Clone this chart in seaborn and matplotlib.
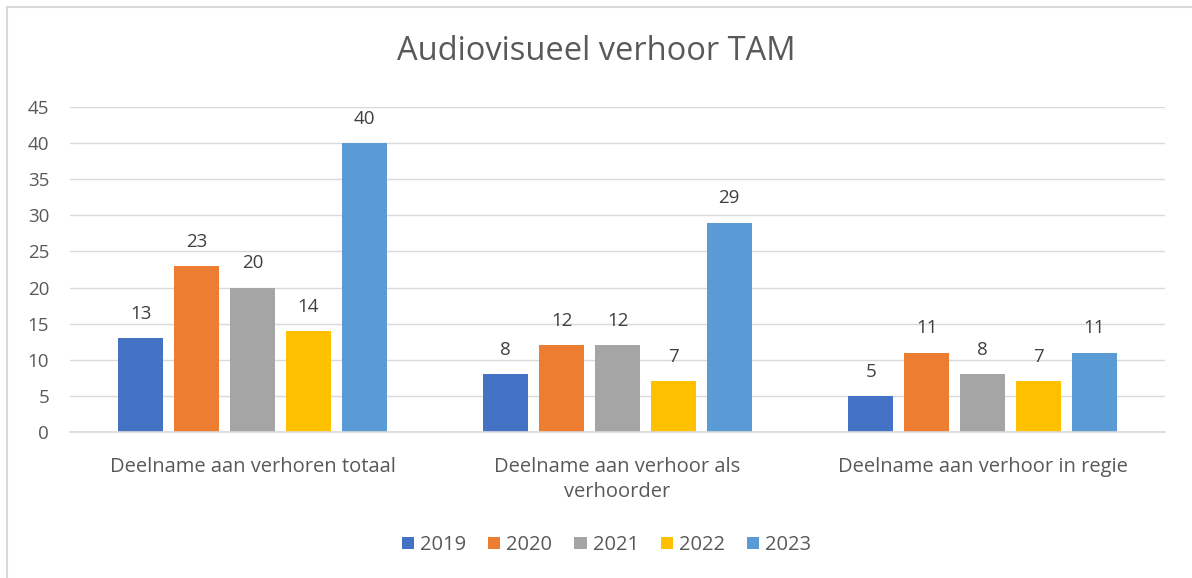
import pandas as pd
import seaborn as sns
import matplotlib.pyplot as plt
from matplotlib.lines import Line2D

categories = ["Deelname aan verhoren totaal",
              "Deelname aan verhoor als\nverhoorder",
              "Deelname aan verhoor in regie"]
years = ["2019", "2020", "2021", "2022", "2023"]
values = {
    "2019": [13, 8, 5],
    "2020": [23, 12, 11],
    "2021": [20, 12, 8],
    "2022": [14, 7, 7],
    "2023": [40, 29, 11],
}
colors = ["#4472C4", "#ED7D31", "#A5A5A5", "#FFC000", "#5B9BD5"]
yticks = list(range(0, 50, 5))

rows = []
for y in years:
    for c, v in zip(categories, values[y]):
        rows.append({"categorie": c, "jaar": y, "aantal": v})
df = pd.DataFrame(rows)

sns.set_style("white")
plt.rcParams['font.family'] = ['Open Sans', 'DejaVu Sans']
txt = "#595959"

fig = plt.figure(figsize=(11.92, 5.78), dpi=100)
ax = fig.add_axes([70 / 1192, 1 - 432 / 578, (1165 - 70) / 1192, (432 - 107) / 578])

sns.barplot(data=df, x="categorie", y="aantal", hue="jaar", order=categories,
            hue_order=years, palette=colors, width=0.765, gap=0.2,
            saturation=1, linewidth=0, ax=ax, legend=True)

for cont in ax.containers:
    ax.bar_label(cont, padding=11, fontsize=13.5, color="#404040")

ax.set_ylim(0, 45)
ax.set_xlim(-0.5, 2.5)
ax.set_yticks(yticks)
ax.grid(axis="y", color="#D9D9D9", linewidth=1)
ax.set_axisbelow(True)
for s in ["top", "right", "left"]:
    ax.spines[s].set_visible(False)
ax.spines["bottom"].set_color("#D9D9D9")
ax.spines["bottom"].set_linewidth(1.2)
ax.set_xlabel("")
ax.set_ylabel("")
ax.tick_params(axis="y", length=0, labelsize=13.5, labelcolor=txt, pad=15)
ax.tick_params(axis="x", length=0, labelsize=14.5, labelcolor=txt, pad=18)
for lbl in ax.get_xticklabels():
    lbl.set_linespacing(1.35)
# ticks between categories
ax.set_xticks([-0.5, 0.5, 1.5, 2.5], minor=True)
ax.tick_params(axis="x", which="minor", length=6, color="#D9D9D9", width=1.2)

leg = ax.legend(loc="center", bbox_to_anchor=(0.49, -0.348), ncol=5,
                frameon=False, fontsize=14.5, handlelength=0.6, handleheight=0.6,
                columnspacing=1.1, handletextpad=0.3)
for t in leg.get_texts():
    t.set_color(txt)

fig.text(0.5, 1 - 52 / 578, "Audiovisueel verhoor TAM", ha="center", va="center",
         fontsize=23.5, color=txt)

# chart border
fig.add_artist(Line2D([7 / 1192, 1], [1 - 7 / 578, 1 - 7 / 578], color="#D9D9D9",
                      linewidth=1.5, transform=fig.transFigure))
fig.add_artist(Line2D([7 / 1192, 7 / 1192], [1 - 7 / 578, 0], color="#D9D9D9",
                      linewidth=1.5, transform=fig.transFigure))

fig.savefig("out.png", dpi=100)
